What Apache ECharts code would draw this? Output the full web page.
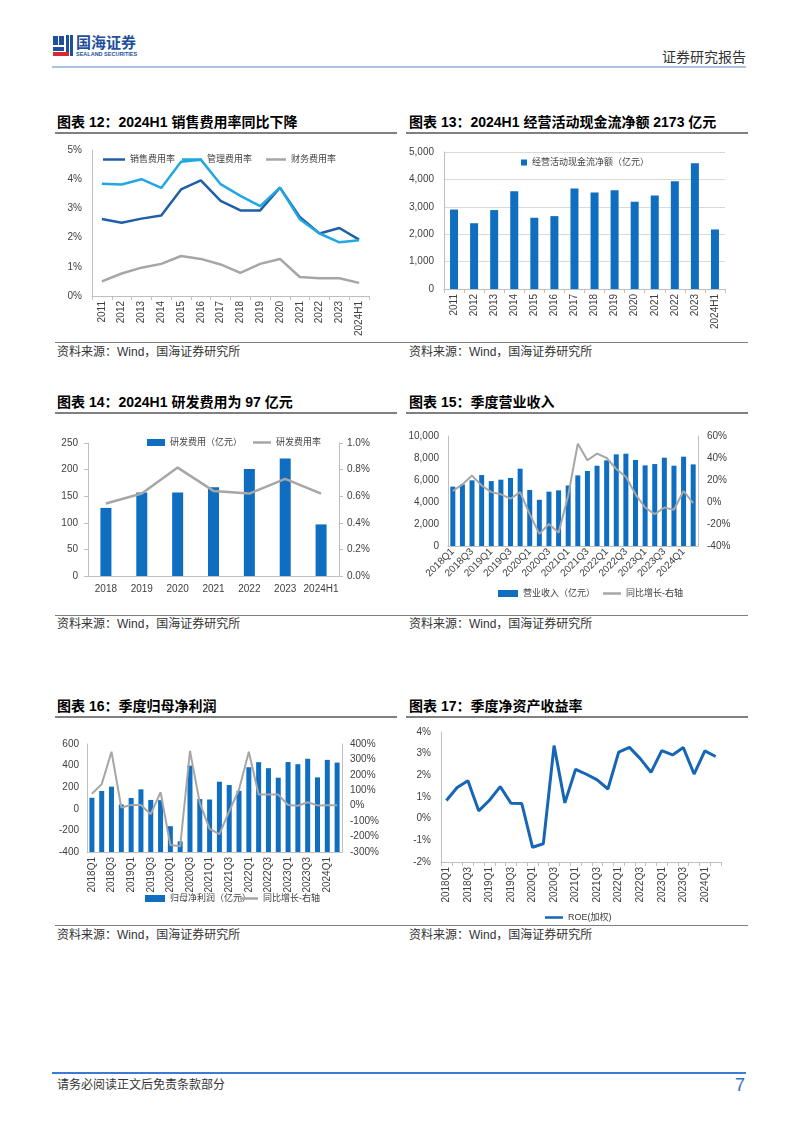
<!DOCTYPE html>
<html><head><meta charset="utf-8">
<script src="https://cdn.jsdelivr.net/npm/echarts@6/dist/echarts.min.js"></script>
<style>
body{margin:0;background:#fff;width:802px;height:1133px;position:relative;overflow:hidden;font-family:'Liberation Sans','Noto Sans CJK SC',sans-serif;}
.abs{position:absolute;}
.title{position:absolute;font-size:14px;font-weight:bold;color:#000;white-space:nowrap;line-height:16px;}
.tline{position:absolute;height:2px;background:#808080;}
.sline{position:absolute;height:1px;background:#808080;left:55px;width:693px;}
.src{position:absolute;font-size:12px;color:#333;white-space:nowrap;line-height:14px;}
.chart{position:absolute;}
</style></head>
<body>
<!-- header -->
<div class="abs" style="left:53px;top:36px;width:5px;height:9px;background:#1d4f9c"></div>
<div class="abs" style="left:59px;top:36px;width:5px;height:9px;background:#1d4f9c"></div>
<div class="abs" style="left:66px;top:35px;width:3px;height:21px;background:#1d4f9c"></div>
<div class="abs" style="left:70px;top:35px;width:3px;height:21px;background:#1d4f9c"></div>
<div class="abs" style="left:53px;top:47px;width:11px;height:4px;background:#1d4f9c"></div>
<div class="abs" style="left:53px;top:52px;width:16px;height:4px;background:#d7282f"></div>
<div class="abs" style="left:76px;top:34px;font-size:15px;font-weight:bold;color:#1d4f9c;line-height:18px;white-space:nowrap;">国海证券</div>
<div class="abs" style="left:76px;top:51px;font-size:5.5px;font-weight:bold;color:#1d4f9c;line-height:7px;white-space:nowrap;">SEALAND SECURITIES</div>
<div class="abs" style="left:662px;top:49px;font-size:14px;color:#333;line-height:16px;white-space:nowrap;">证券研究报告</div>
<div class="abs" style="left:52px;top:66px;width:694px;height:2px;background:#a9c2e6"></div>

<!-- row titles -->
<div class="title" style="left:57px;top:114px;">图表 12：2024H1 销售费用率同比下降</div>
<div class="title" style="left:409px;top:114px;">图表 13：2024H1 经营活动现金流净额 2173 亿元</div>
<div class="tline" style="left:55px;top:132px;width:342px;"></div>
<div class="tline" style="left:406px;top:132px;width:342px;"></div>
<div class="sline" style="top:342px;"></div>
<div class="src" style="left:57px;top:345px;">资料来源：Wind，国海证券研究所</div>
<div class="src" style="left:409px;top:345px;">资料来源：Wind，国海证券研究所</div>

<div class="title" style="left:57px;top:394px;">图表 14：2024H1 研发费用为 97 亿元</div>
<div class="title" style="left:409px;top:394px;">图表 15：季度营业收入</div>
<div class="tline" style="left:55px;top:412px;width:342px;"></div>
<div class="tline" style="left:406px;top:412px;width:342px;"></div>
<div class="sline" style="top:615px;"></div>
<div class="src" style="left:57px;top:617px;">资料来源：Wind，国海证券研究所</div>
<div class="src" style="left:409px;top:617px;">资料来源：Wind，国海证券研究所</div>

<div class="title" style="left:57px;top:698px;">图表 16：季度归母净利润</div>
<div class="title" style="left:409px;top:698px;">图表 17：季度净资产收益率</div>
<div class="tline" style="left:55px;top:716px;width:342px;"></div>
<div class="tline" style="left:406px;top:716px;width:342px;"></div>
<div class="sline" style="top:925px;"></div>
<div class="src" style="left:57px;top:928px;">资料来源：Wind，国海证券研究所</div>
<div class="src" style="left:409px;top:928px;">资料来源：Wind，国海证券研究所</div>

<!-- footer -->
<div class="abs" style="left:52px;top:1072px;width:694px;height:2px;background:#3a7bd5"></div>
<div class="abs" style="left:57px;top:1078px;font-size:12px;color:#333;line-height:14px;white-space:nowrap;">请务必阅读正文后免责条款部分</div>
<div class="abs" style="left:735px;top:1075px;font-size:18px;color:#2f6fc6;line-height:20px;">7</div>

<div id="c12" class="chart" style="left:55px;top:140px;width:340px;height:200px;"></div>
<div id="c13" class="chart" style="left:405px;top:140px;width:340px;height:200px;"></div>
<div id="c14" class="chart" style="left:55px;top:420px;width:340px;height:192px;"></div>
<div id="c15" class="chart" style="left:405px;top:420px;width:340px;height:192px;"></div>
<div id="c16" class="chart" style="left:55px;top:725px;width:340px;height:198px;"></div>
<div id="c17" class="chart" style="left:405px;top:725px;width:340px;height:198px;"></div>

<script>
// ---------- data ----------
const years12 = ['2011','2012','2013','2014','2015','2016','2017','2018','2019','2020','2021','2022','2023','2024H1'];
const sales12 = [2.64,2.51,2.65,2.76,3.65,3.96,3.26,2.93,2.93,3.71,2.71,2.14,2.33,1.93];
const admin12 = [3.84,3.82,4.00,3.70,4.60,4.67,3.83,3.43,3.08,3.71,2.63,2.14,1.84,1.91];
const fin12 = [0.50,0.77,0.97,1.10,1.37,1.27,1.08,0.79,1.10,1.27,0.65,0.61,0.61,0.45];

const years13 = ['2011','2012','2013','2014','2015','2016','2017','2018','2019','2020','2021','2022','2023','2024H1'];
const cash13 = [2900,2400,2880,3570,2600,2660,3670,3520,3600,3180,3410,3930,4590,2173];

const years14 = ['2018','2019','2020','2021','2022','2023','2024H1'];
const rd14 = [128,157,157,167,201,221,97];
const rdRate14 = [0.545,0.62,0.815,0.64,0.62,0.73,0.62];

const quarters = ['2018Q1','2018Q2','2018Q3','2018Q4','2019Q1','2019Q2','2019Q3','2019Q4',
  '2020Q1','2020Q2','2020Q3','2020Q4','2021Q1','2021Q2','2021Q3','2021Q4',
  '2022Q1','2022Q2','2022Q3','2022Q4','2023Q1','2023Q2','2023Q3','2023Q4','2024Q1','2024Q2'];
const rev15 = [5400,5600,5970,6450,5900,6030,6180,7030,5090,4200,4940,5060,5500,6420,6820,7300,7790,8330,8390,7820,7330,7450,8030,7300,8120,7420];
const revYoy15 = [10,16,24,15,9,7,3,9,-11,-29,-20,-28,6,53,38,44,40,30,23,7,-5,-11,-5,-7,10,-1];

const np16 = [102,165,205,40,100,180,82,80,-161,-301,400,90,86,251,220,166,385,432,376,288,433,413,463,291,453,428];
const npYoy16 = [77,140,350,-12,5,5,-55,88,-255,-263,355,18,-150,-184,-37,105,350,72,72,72,5,0,22,2,3,3];
const yMin16 = -400;

const roe17 = [0.84,1.44,1.75,0.36,0.85,1.48,0.71,0.70,-1.32,-1.16,3.37,0.73,2.28,2.05,1.79,1.37,3.07,3.29,2.77,2.14,3.14,2.94,3.28,2.06,3.13,2.87];

// ---------- styles ----------
const FONT = "'Liberation Sans','Noto Sans CJK SC',sans-serif";
const BLUE = '#0f6ec0';
const GRAY = '#a6a6a6';
const lbl = (o) => Object.assign({color:'#404040', fontSize:10, fontFamily:FONT}, o||{});
const axLine = {show:true, lineStyle:{color:'#bfbfbf', width:1}};
const axTick = {show:true, length:4, lineStyle:{color:'#bfbfbf'}};
const legText = {color:'#404040', fontSize:9, fontFamily:FONT};
const pct0 = v => v + '%';
// legend helpers: a bar item (flat rect) or a line item (thin rect)
const legBar = (name, left, top, w, h) => ({left, top, icon:'rect', itemWidth:w||20, itemHeight:h||7, itemGap:4, textStyle:legText, data:[name]});
const legLine = (name, left, top, w) => ({left, top, icon:'rect', itemWidth:w||18, itemHeight:2.5, itemGap:4, textStyle:legText, data:[name]});

function mk(id, opt){ const c = echarts.init(document.getElementById(id), null, {renderer:'canvas'}); opt.animation = false; c.setOption(opt); }

// ---------- chart 12 ----------
mk('c12', {
  grid:{left:37, top:10, width:277, height:146},
  legend:[legLine('销售费用率', 43, 10, 22), legLine('管理费用率', 122, 10, 20), legLine('财务费用率', 206, 10, 20)],
  xAxis:{type:'category', data:years12, axisLine:axLine, axisTick:axTick,
    axisLabel:lbl({rotate:90, margin:5, interval:0})},
  yAxis:{type:'value', min:0, max:5, interval:1, axisLine:axLine, axisTick:{show:false},
    splitLine:{show:false}, axisLabel:lbl({formatter:pct0, margin:10})},
  series:[
    {name:'销售费用率', type:'line', data:sales12, symbol:'none', lineStyle:{width:2.5, color:'#1f5fa8'}, itemStyle:{color:'#1f5fa8'}},
    {name:'管理费用率', type:'line', data:admin12, symbol:'none', lineStyle:{width:2.5, color:'#22a7e3'}, itemStyle:{color:'#22a7e3'}},
    {name:'财务费用率', type:'line', data:fin12, symbol:'none', lineStyle:{width:2.5, color:GRAY}, itemStyle:{color:GRAY}}
  ]
});

// ---------- chart 13 ----------
mk('c13', {
  grid:{left:39, top:12, width:281, height:137},
  legend:legBar('经营活动现金流净额（亿元）', 111, 13, 6, 6),
  xAxis:{type:'category', data:years13, axisLine:axLine, axisTick:axTick,
    axisLabel:lbl({rotate:90, margin:5, interval:0})},
  yAxis:{type:'value', min:0, max:5000, interval:1000, axisLine:axLine, axisTick:{show:false},
    splitLine:{show:true, lineStyle:{color:'#d9d9d9'}},
    axisLabel:lbl({margin:10, formatter: v => v.toLocaleString('en-US')})},
  series:[{name:'经营活动现金流净额（亿元）', type:'bar', data:cash13, barWidth:8, itemStyle:{color:BLUE}}]
});

// ---------- chart 14 ----------
mk('c14', {
  grid:{left:33, top:23, width:251, height:133},
  legend:[legBar('研发费用（亿元）', 87, 13, 18, 7), legLine('研发费用率', 193, 13, 18)],
  xAxis:{type:'category', data:years14, axisLine:axLine, axisTick:{show:false},
    axisLabel:lbl({margin:8, interval:0})},
  yAxis:[
    {type:'value', min:0, max:250, interval:50, axisLine:axLine, axisTick:axTick, splitLine:{show:false},
      axisLabel:lbl({margin:10})},
    {type:'value', min:0, max:1.0, interval:0.2, axisLine:axLine, axisTick:axTick, splitLine:{show:false},
      axisLabel:lbl({margin:8, formatter: v => v.toFixed(1) + '%'})}
  ],
  series:[
    {name:'研发费用（亿元）', type:'bar', data:rd14, barWidth:11, itemStyle:{color:BLUE}},
    {name:'研发费用率', type:'line', yAxisIndex:1, data:rdRate14, symbol:'none', lineStyle:{width:2.5, color:GRAY}, itemStyle:{color:GRAY}}
  ]
});

// ---------- chart 15 ----------
mk('c15', {
  grid:{left:43, top:16, width:250, height:110},
  legend:[legBar('营业收入（亿元）', 88, 164, 20, 7), legLine('同比增长-右轴', 193, 164, 18)],
  xAxis:{type:'category', data:quarters, axisLine:axLine, axisTick:{show:false},
    axisLabel:lbl({rotate:45, margin:4, interval:1})},
  yAxis:[
    {type:'value', min:0, max:10000, interval:2000, axisLine:axLine, axisTick:{show:false}, splitLine:{show:false},
      axisLabel:lbl({margin:9, formatter: v => v.toLocaleString('en-US')})},
    {type:'value', min:-40, max:60, interval:20, axisLine:axLine, axisTick:{show:false}, splitLine:{show:false},
      axisLabel:lbl({margin:9, formatter:pct0})}
  ],
  series:[
    {name:'营业收入（亿元）', type:'bar', data:rev15, barWidth:5, itemStyle:{color:BLUE}},
    {name:'同比增长-右轴', type:'line', yAxisIndex:1, data:revYoy15, symbol:'none', lineStyle:{width:2, color:GRAY}, itemStyle:{color:GRAY}}
  ]
});

// ---------- chart 16 ----------
mk('c16', {
  grid:{left:32, top:19, width:255, height:108},
  legend:[legBar('归母净利润（亿元）', 85, 164, 20, 7), legLine('同比增长-右轴', 180, 164, 18)],
  xAxis:{type:'category', data:quarters, axisLine:Object.assign({onZero:false}, axLine), axisTick:{show:false},
    axisLabel:lbl({rotate:90, margin:5, interval:1})},
  yAxis:[
    {type:'value', min:yMin16, max:600, interval:200, axisLine:axLine, axisTick:{show:false}, splitLine:{show:false},
      axisLabel:lbl({margin:8})},
    {type:'value', min:-300, max:400, interval:100, axisLine:axLine, axisTick:{show:false}, splitLine:{show:false},
      axisLabel:lbl({margin:8, formatter:pct0})}
  ],
  series:[
    {name:'归母净利润（亿元）', type:'custom', data:np16.map((v,i)=>[i,v]), encode:{x:0, y:1},
      itemStyle:{color:BLUE},
      renderItem:function(params, api){
        const i = api.value(0), v = api.value(1);
        const top = api.coord([i, v]);
        const base = api.coord([i, yMin16]);
        const w = 5;
        return {type:'rect', shape:{x:top[0]-w/2, y:Math.min(top[1], base[1]), width:w, height:Math.abs(base[1]-top[1])},
          style:{fill:BLUE}};
      }},
    {name:'同比增长-右轴', type:'line', yAxisIndex:1, data:npYoy16, symbol:'none', lineStyle:{width:2, color:GRAY}, itemStyle:{color:GRAY}}
  ]
});

// ---------- chart 17 ----------
mk('c17', {
  grid:{left:36, top:7, width:280, height:130},
  legend:legLine('ROE(加权)', 135, 183, 18),
  xAxis:{type:'category', data:quarters, axisLine:Object.assign({onZero:false}, axLine), axisTick:{show:true, length:4, interval:0, lineStyle:{color:'#bfbfbf'}},
    axisLabel:lbl({rotate:90, margin:5, interval:1})},
  yAxis:{type:'value', min:-2, max:4, interval:1, axisLine:axLine, axisTick:{show:false}, splitLine:{show:false},
    axisLabel:lbl({margin:10, formatter:pct0})},
  series:[{name:'ROE(加权)', type:'line', data:roe17, symbol:'none', lineStyle:{width:3, color:'#1766b6'}, itemStyle:{color:'#1766b6'}}]
});
</script>
</body></html>
